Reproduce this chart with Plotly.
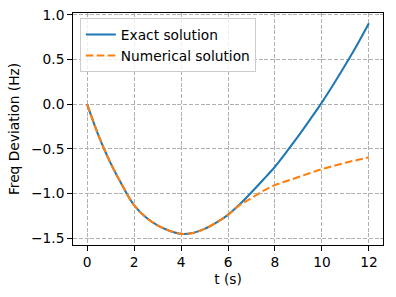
import plotly.graph_objects as go

# time points (s)
t = [0, 0.5, 1, 1.5, 2, 2.5, 3, 3.5, 4, 4.5, 5, 5.5, 6, 6.5, 7, 7.5, 8,
     8.5, 9, 9.5, 10, 10.5, 11, 11.5, 12]

# Exact solution (Hz)
exact = [0.0, -0.36, -0.66, -0.91, -1.13, -1.265, -1.355, -1.415, -1.45,
         -1.44, -1.395, -1.325, -1.238, -1.12, -0.985, -0.845, -0.70,
         -0.53, -0.355, -0.17, 0.02, 0.225, 0.44, 0.665, 0.905]

# Numerical solution (Hz)
numerical = [0.0, -0.36, -0.66, -0.91, -1.13, -1.265, -1.355, -1.415, -1.45,
             -1.44, -1.395, -1.325, -1.238, -1.13, -1.05, -0.97, -0.905,
             -0.86, -0.815, -0.77, -0.727, -0.69, -0.655, -0.625, -0.595]

xticks = [0, 2, 4, 6, 8, 10, 12]
yticks = [-1.5, -1.0, -0.5, 0.0, 0.5, 1.0]
ytick_text = ["\u22121.5", "\u22121.0", "\u22120.5", "0.0", "0.5", "1.0"]

FONT = "DejaVu Sans"
FS = 13.75

fig = go.Figure()
fig.add_trace(go.Scatter(x=t, y=exact, mode="lines", name="Exact solution",
                         line=dict(color="#1f77b4", width=2.06, shape="spline")))
fig.add_trace(go.Scatter(x=t, y=numerical, mode="lines", name="Numerical solution",
                         line=dict(color="#ff7f0e", width=2.06, shape="spline",
                                   dash="7.6px,3.3px")))

axis_common = dict(
    showline=True, linecolor="black", linewidth=1.1, mirror=True,
    ticks="outside", ticklen=4.8, tickwidth=1.1, tickcolor="black",
    showgrid=True, gridcolor="#b0b0b0", gridwidth=1.1, griddash="4px,1.8px",
    zeroline=False, tickfont=dict(family=FONT, size=FS, color="black"),
)

fig.update_xaxes(range=[-0.6, 12.6], tickvals=xticks,
                 title=dict(text="t (s)", font=dict(family=FONT, size=FS, color="black"),
                            standoff=5),
                 **axis_common)
fig.update_yaxes(range=[-1.575, 1.019], tickvals=yticks, ticktext=ytick_text,
                 title=dict(text="Freq Deviation (Hz)",
                            font=dict(family=FONT, size=FS, color="black"), standoff=8),
                 **axis_common)

fig.update_layout(
    width=396, height=297,
    margin=dict(l=73, r=13, t=13, b=52, autoexpand=False),
    paper_bgcolor="white", plot_bgcolor="white",
    font=dict(family=FONT, size=FS, color="black"),
    showlegend=True,
    legend=dict(x=0.022, y=0.978, xanchor="left", yanchor="top",
                bgcolor="rgba(255,255,255,0.8)", bordercolor="#cccccc", borderwidth=1,
                font=dict(family=FONT, size=FS, color="black"),
                tracegroupgap=0),
)

fig.write_html("out.html",
               config={"displayModeBar": False},
               post_script="document.body.style.margin='0';document.body.style.overflow='hidden';")
